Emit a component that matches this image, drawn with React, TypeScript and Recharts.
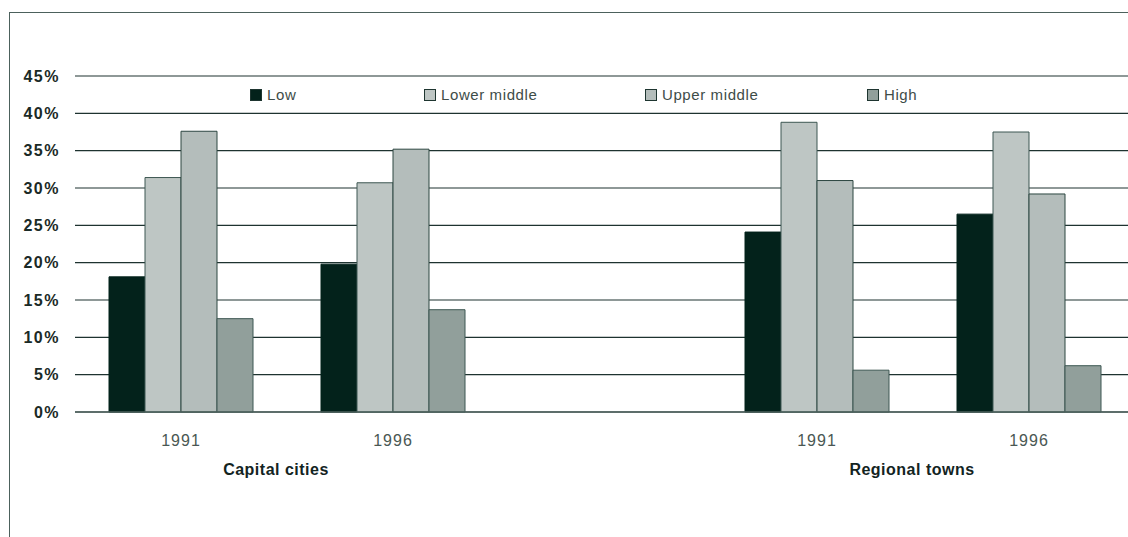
import React from 'react';
import { BarChart, Bar, XAxis, YAxis, CartesianGrid, Legend } from 'recharts';

const years = ['1991', '1996', '', '1991', '1996'];
const groupLabels = ['Capital cities', '', '', 'Regional towns', ''];
const low = [18.1, 19.8, null, 24.1, 26.5];
const lowerMiddle = [31.4, 30.7, null, 38.8, 37.5];
const upperMiddle = [37.6, 35.2, null, 31.0, 29.2];
const high = [12.5, 13.7, null, 5.6, 6.2];
const yTicks = [0, 5, 10, 15, 20, 25, 30, 35, 40, 45];

const SERIES = [
  { key: 'low', name: 'Low', color: '#03221b', stroke: '#03221b' },
  { key: 'lowerMiddle', name: 'Lower middle', color: '#bec6c4', stroke: '#3d5752' },
  { key: 'upperMiddle', name: 'Upper middle', color: '#b4bdbb', stroke: '#2c4641' },
  { key: 'high', name: 'High', color: '#919f9b', stroke: '#3d5752' },
];

const data = years.map((year, i) => ({
  year,
  low: low[i],
  lowerMiddle: lowerMiddle[i],
  upperMiddle: upperMiddle[i],
  high: high[i],
}));

const FONT = 'Arial, "Liberation Sans", Helvetica, sans-serif';

const YearTick = ({ x, y, payload }: any) => {
  const group = groupLabels[payload.index];
  return (
    <g>
      <text x={x} y={y + 26} textAnchor="middle" fontSize={16} letterSpacing={1} fill="#4a5753" fontFamily={FONT}>
        {payload.value}
      </text>
      {group && (
        <text x={x + 95} y={y + 55} textAnchor="middle" fontSize={16} fontWeight="bold" letterSpacing={0.5} fill="#13241f" fontFamily={FONT}>
          {group}
        </text>
      )}
    </g>
  );
};

const widths = [174, 221, 222, 120];

const LegendContent = () => (
  <div style={{ display: 'flex', fontFamily: FONT, fontSize: 15, letterSpacing: 0.6, color: '#3e4c48' }}>
    {SERIES.map((s, i) => (
      <div key={s.key} style={{ width: widths[i], display: 'flex', alignItems: 'center' }}>
        <span style={{ display: 'inline-block', width: 10, height: 10, background: s.color, border: '1px solid #1e3530', marginRight: 5 }} />
        <span>{s.name}</span>
      </div>
    ))}
  </div>
);

export default function App() {
  return (
    <div style={{ position: 'fixed', left: 0, top: 0, width: 1128, height: 537, overflow: 'hidden', background: '#fff' }}>
      <div style={{ position: 'absolute', left: 9, top: 12, right: 0, bottom: 0, borderTop: '1px solid #4c615c', borderLeft: '1px solid #4c615c' }} />
      <div style={{ position: 'absolute', left: 8, top: 8 }}>
        <BarChart width={1130} height={521} data={data} margin={{ top: 68, right: 3, bottom: 0, left: 0 }} barSize={36} barGap={0}>
          <CartesianGrid vertical={false} stroke="#1e3330" strokeWidth={1.2} />
          <XAxis dataKey="year" axisLine={{ stroke: '#4c615c', strokeWidth: 1.5 }} tickLine={false} tick={<YearTick />} interval={0} height={117} />
          <YAxis
            domain={[0, 45]}
            ticks={yTicks}
            width={67}
            axisLine={false}
            tickLine={false}
            tickSize={0}
            tickMargin={15}
            tickFormatter={(v: number) => `${v}%`}
            tick={{ fontSize: 16, fontWeight: 'bold', fill: '#1a2a26', fontFamily: FONT, letterSpacing: 1.5 }}
          />
          <Legend
            layout="horizontal"
            verticalAlign="middle"
            align="center"
            content={<LegendContent />}
            wrapperStyle={{ top: 78, left: 242, width: 760 }}
          />
          {SERIES.map((s) => (
            <Bar key={s.key} dataKey={s.key} name={s.name} fill={s.color} stroke={s.stroke} strokeWidth={1} isAnimationActive={false} />
          ))}
        </BarChart>
      </div>
    </div>
  );
}
